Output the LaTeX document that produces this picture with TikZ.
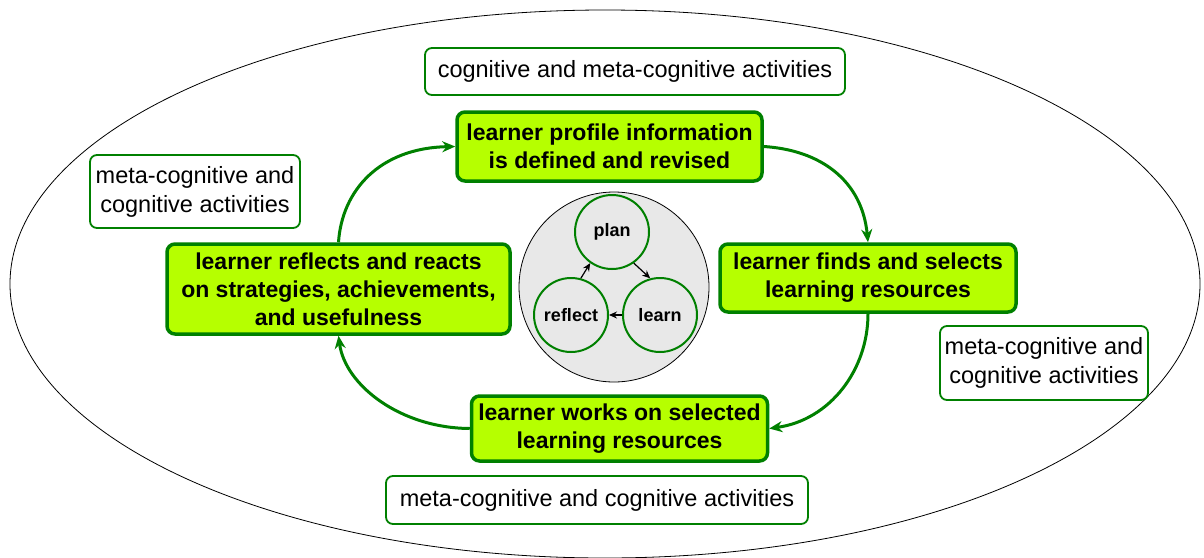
\documentclass[tikz,border=0pt]{standalone}
\usepackage{fontspec}
\setmainfont{Liberation Sans}
\usetikzlibrary{arrows.meta,shapes.geometric}
\definecolor{boxgreen}{RGB}{0,128,0}
\definecolor{limefill}{RGB}{182,255,0}
\definecolor{discgrey}{RGB}{232,232,232}
\begin{document}
\begin{tikzpicture}[x=1pt,y=-1pt,
  stage/.style={draw=boxgreen,line width=3.5pt,fill=limefill,rounded corners=8pt,
    align=center,font=\fontsize{23}{28}\selectfont\bfseries,inner sep=0pt},
  activity/.style={draw=boxgreen,line width=1.8pt,fill=white,rounded corners=7pt,
    align=center,font=\fontsize{23.5}{29}\selectfont,inner sep=0pt},
  phase/.style={circle,draw=boxgreen,line width=2pt,fill=discgrey,minimum size=74pt,
    inner sep=0pt,font=\fontsize{18}{20}\selectfont\bfseries},
  cycle/.style={draw=boxgreen,line width=3pt,-{Stealth[length=13pt,width=11pt]}},
  small/.style={draw=black,line width=1.2pt,-{Stealth[length=8pt,width=7pt]}}]
\useasboundingbox (0,0) rectangle (1204,557);
% outer frame
\node[draw=black,line width=0.8pt,ellipse,minimum width=1190pt,minimum height=548pt,inner sep=0pt] (frame) at (605,284) {};
% activity labels
\node[activity,minimum width=420pt,minimum height=47pt] (acttop) at (635,71.5) {cognitive and meta-cognitive activities};
\node[activity,minimum width=210pt,minimum height=73pt] (actleft) at (195,191.5) {meta-cognitive and\\cognitive activities};
\node[activity,minimum width=208pt,minimum height=74pt] (actright) at (1044,363) {meta-cognitive and\\cognitive activities};
\node[activity,minimum width=422pt,minimum height=48pt] (actbottom) at (597,500) {meta-cognitive and cognitive activities};
% stages of the cycle
\node[stage,minimum width=305pt,minimum height=69pt] (profile) at (609.5,146.5) {learner profile information\\is defined and revised};
\node[stage,minimum width=296pt,minimum height=68pt] (finds) at (868,278) {learner finds and selects\\learning resources};
\node[stage,minimum width=296pt,minimum height=65pt] (works) at (619.5,428.5) {learner works on selected\\learning resources};
\node[stage,minimum width=343pt,minimum height=90pt] (reflects) at (338.5,289) {learner reflects and reacts\\on strategies, achievements,\\and usefulness};
% cycle arrows
\draw[cycle] (reflects.north) .. controls (342,190) and (380,148) .. (profile.west);
\draw[cycle] (profile.east) .. controls (820,150) and (862,180) .. (finds.north);
\draw[cycle] (finds.south) .. controls (868,370) and (830,420) .. (works.east);
\draw[cycle] (works.west) .. controls (400,428) and (345,385) .. (reflects.south);
% central disc with plan / learn / reflect
\node[circle,draw=black,line width=0.8pt,fill=discgrey,minimum size=190pt,inner sep=0pt] (disc) at (614,287) {};
\node[phase] (plan) at (612,232) {plan};
\node[phase] (learn) at (660,315) {learn};
\node[phase] (reflect) at (571,315) {reflect};
\draw[small] (reflect.75) -- (plan.235);
\draw[small] (plan.-55) -- (learn.105);
\draw[small] (learn.west) -- (reflect.east);
\end{tikzpicture}
\end{document}
